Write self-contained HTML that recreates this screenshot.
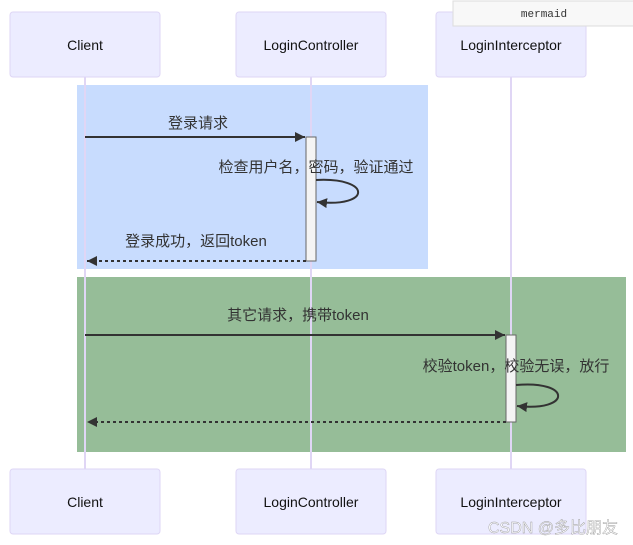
<!DOCTYPE html>
<html><head><meta charset="utf-8"><style>
body{margin:0;background:#fff;}
svg{display:block;font-family:"Liberation Sans","Noto Sans CJK SC",sans-serif;}
</style></head><body>
<svg width="633" height="545" viewBox="0 0 633 545">
<defs>
<marker id="a" markerWidth="12" markerHeight="12" refX="10" refY="5" orient="auto" markerUnits="userSpaceOnUse"><path d="M0,0 L10,5 L0,10 z" fill="#333"/></marker>
</defs>
<rect width="633" height="545" fill="#fff"/>
<rect x="77" y="85" width="351" height="184" fill="#c8dcfe"/>
<rect x="77" y="277" width="549" height="175" fill="#96bd98"/>
<g stroke="#e0d6f5" stroke-width="2">
<line x1="85" y1="77" x2="85" y2="469"/>
<line x1="311" y1="77" x2="311" y2="469"/>
<line x1="511" y1="77" x2="511" y2="469"/>
</g>
<g fill="#ececff" stroke="#ded6f5" stroke-width="1">
<rect x="10" y="12" width="150" height="65" rx="3"/>
<rect x="236" y="12" width="150" height="65" rx="3"/>
<rect x="436" y="12" width="150" height="65" rx="3"/>
<rect x="10" y="469" width="150" height="65" rx="3"/>
<rect x="236" y="469" width="150" height="65" rx="3"/>
<rect x="436" y="469" width="150" height="65" rx="3"/>
</g>
<g font-size="14" text-anchor="middle" fill="#111">
<text x="85" y="50">Client</text><text x="311" y="50">LoginController</text><text x="511" y="50">LoginInterceptor</text>
<text x="85" y="507">Client</text><text x="311" y="507">LoginController</text><text x="511" y="507">LoginInterceptor</text>
</g>
<rect x="453" y="1" width="182" height="25" fill="#f8f8f8" stroke="#ddd"/>
<text x="544" y="17" font-size="11" text-anchor="middle" font-family="Liberation Mono,monospace" fill="#333">mermaid</text>
<rect x="306" y="137" width="10" height="124" fill="#f4f4f4" stroke="#666"/>
<rect x="506" y="335" width="10" height="87" fill="#f4f4f4" stroke="#666"/>
<g stroke="#333" stroke-width="2" fill="none">
<line x1="85" y1="137" x2="305" y2="137" marker-end="url(#a)"/>
<path d="M316,180 C372,177 372,208 317,202" marker-end="url(#a)"/>
<line x1="306" y1="261" x2="87" y2="261" stroke-dasharray="3,3" marker-end="url(#a)"/>
<line x1="85" y1="335" x2="505" y2="335" marker-end="url(#a)"/>
<path d="M516,385 C572,380 572,412 517,406" marker-end="url(#a)"/>
<line x1="506" y1="422" x2="87" y2="422" stroke-dasharray="3,3" marker-end="url(#a)"/>
</g>
<g font-size="15" text-anchor="middle" fill="#333">
<text x="198" y="128">登录请求</text>
<text x="316" y="172">检查用户名，密码，验证通过</text>
<text x="196" y="246">登录成功，返回token</text>
<text x="298" y="320">其它请求，携带token</text>
<text x="516" y="371">校验token，校验无误，放行</text>
</g>
<text x="618" y="533" font-size="16" text-anchor="end" fill="#fff" fill-opacity="0.85" stroke="#999" stroke-width="0.4">CSDN @多比朋友</text>
</svg>
</body></html>
